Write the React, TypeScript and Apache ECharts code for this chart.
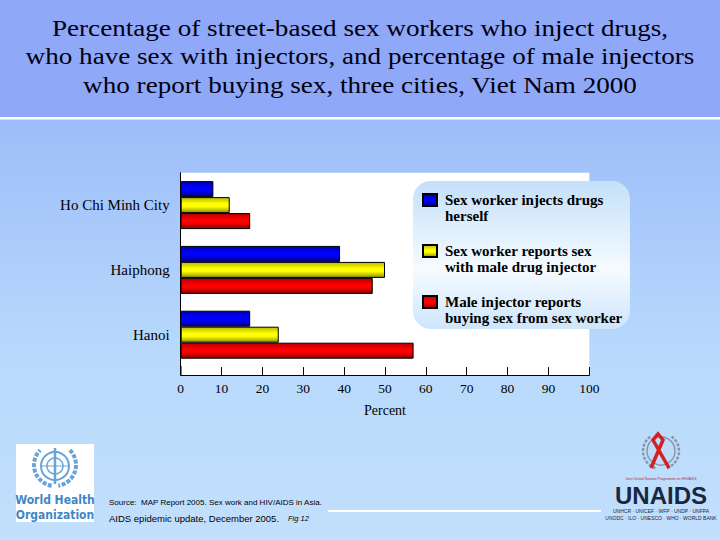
import React, { useEffect, useRef } from "react";
import * as echarts from "echarts";

// ---- data ----
const titleLines = [
  "Percentage of street-based sex workers who inject drugs,",
  "who have sex with injectors, and percentage of male injectors",
  "who report buying sex, three cities, Viet Nam 2000",
];
const cities = ["Ho Chi Minh City", "Haiphong", "Hanoi"];
const seriesNames = [
  "Sex worker injects drugs herself",
  "Sex worker reports sex with male drug injector",
  "Male injector reports buying sex from sex worker",
];
const legendLines: Record<string, string[]> = {
  "Sex worker injects drugs herself": ["Sex worker injects drugs", "herself"],
  "Sex worker reports sex with male drug injector": ["Sex worker reports sex", "with male drug injector"],
  "Male injector reports buying sex from sex worker": ["Male injector reports", "buying sex from sex worker"],
};
const injectsDrugs = [8, 39, 17];
const sexWithInjector = [12, 50, 24];
const buyingSex = [17, 47, 57];
const xMin = 0;
const xMax = 100;
const xInterval = 10;
const axisName = "Percent";
const sourceLine1 = "Source:  MAP Report 2005. Sex work and HIV/AIDS in Asia.";
const sourceLine2 = "AIDS epidemic update, December 2005.";
const figLabel = "Fig 12";

const SERIF = "'Liberation Serif', 'DejaVu Serif', serif";
const SANS = "'Liberation Sans', Arial, sans-serif";
const COND = "'DejaVu Sans Condensed', 'DejaVu Sans', sans-serif";

function grad(top: string, mid: string, bottom: string) {
  return new echarts.graphic.LinearGradient(0, 0, 0, 1, [
    { offset: 0, color: top },
    { offset: 0.4, color: mid },
    { offset: 0.6, color: mid },
    { offset: 1, color: bottom },
  ]);
}

export default function App() {
  const ref = useRef<HTMLDivElement>(null);
  useEffect(() => {
    document.body.style.margin = "0";
    if (!ref.current) return;
    const chart = echarts.init(ref.current, null, { renderer: "svg" });
    const values = [injectsDrugs, sexWithInjector, buyingSex];
    const fills = [
      grad("#0000a8", "#0000ff", "#000080"),
      grad("#b8b800", "#ffff00", "#909000"),
      grad("#b80000", "#ff0000", "#8a0000"),
    ];
    const whoBlue = "#6aa3d8";
    const option: any = {
      animation: false,
      grid: {
        left: 180.7,
        top: 172.7,
        width: 408.6,
        height: 194.4,
        outerBoundsMode: "none",
      },
      xAxis: {
        type: "value",
        min: xMin,
        max: xMax,
        interval: xInterval,
        offset: 8,
        axisLine: { show: true, lineStyle: { color: "#000", width: 1 } },
        axisTick: { show: true, inside: true, length: 8, lineStyle: { color: "#000" } },
        splitLine: { show: false },
        axisLabel: { fontFamily: SERIF, fontSize: 13.5, color: "#000", margin: 6 },
        name: axisName,
        nameLocation: "middle",
        nameGap: 28,
        nameTextStyle: { fontFamily: SERIF, fontSize: 14, color: "#000" },
      },
      yAxis: {
        type: "category",
        data: cities,
        inverse: true,
        axisLine: { show: true, lineStyle: { color: "#000", width: 1 } },
        axisTick: { show: false },
        axisLabel: { fontFamily: SERIF, fontSize: 15, color: "#000", margin: 11 },
      },
      legend: {
        orient: "vertical",
        left: 422,
        top: 176,
        padding: 0,
        itemWidth: 14,
        itemHeight: 12,
        itemGap: 3,
        icon: "rect",
        data: seriesNames,
        formatter: (name: string) => "\n" + legendLines[name].join("\n"),
        textStyle: {
          fontFamily: SERIF,
          fontSize: 15,
          fontWeight: "bold",
          lineHeight: 16,
          color: "#000",
          padding: [0, 0, 0, 3],
        },
      },
      series: seriesNames.map((n, i) => ({
        type: "bar",
        name: n,
        data: values[i],
        barWidth: 16,
        barGap: "0%",
        itemStyle: { color: fills[i], borderColor: "#000", borderWidth: 1 },
      })),
      graphic: [
        // backgrounds
        {
          type: "rect",
          z: -20,
          shape: { x: 0, y: 0, width: 720, height: 540 },
          style: {
            fill: new echarts.graphic.LinearGradient(0, 0, 0, 1, [
              { offset: 0, color: "#8eaef8" },
              { offset: 0.65, color: "#b8d9fc" },
              { offset: 1, color: "#c2e0fc" },
            ]),
          },
          silent: true,
        },
        {
          type: "rect",
          z: -19,
          shape: { x: 0, y: 0, width: 720, height: 117 },
          style: { fill: "#8fa8f8" },
          silent: true,
        },
        {
          type: "rect",
          z: -19,
          shape: { x: 0, y: 117, width: 720, height: 2.5 },
          style: { fill: "#ffffff" },
          silent: true,
        },
        // title
        {
          type: "text",
          z: 5,
          x: 360,
          y: 13.5,
          scaleX: 1.18,
          style: {
            text: titleLines.join("\n"),
            fontFamily: SERIF,
            fontSize: 23,
            lineHeight: 28.5,
            fill: "#000010",
            align: "center",
            verticalAlign: "top",
          },
        },
        // plot area
        {
          type: "rect",
          z: -18,
          shape: { x: 180.7, y: 172.7, width: 408.6, height: 202.3 },
          style: { fill: "#ffffff" },
          silent: true,
        },
        {
          type: "line",
          z: 1,
          shape: { x1: 181, y1: 366, x2: 181, y2: 375.5 },
          style: { stroke: "#000", lineWidth: 1 },
          silent: true,
        },
        // legend box
        {
          type: "rect",
          z: -17,
          shape: { x: 413, y: 181, width: 217, height: 148, r: 18 },
          style: {
            fill: new echarts.graphic.LinearGradient(0, 0, 0, 1, [
              { offset: 0, color: "#c4e0fa" },
              { offset: 0.6, color: "#f6fbff" },
              { offset: 1, color: "#cde5fb" },
            ]),
          },
          silent: true,
        },
        // source line
        {
          type: "rect",
          z: -16,
          shape: { x: 328, y: 510, width: 273, height: 2 },
          style: { fill: "#ffffff" },
          silent: true,
        },
        {
          type: "text",
          z: 5,
          x: 109,
          y: 502,
          style: { text: sourceLine1, fontFamily: SANS, fontSize: 8, fill: "#000", verticalAlign: "middle" },
        },
        {
          type: "text",
          z: 5,
          x: 109,
          y: 518,
          style: { text: sourceLine2, fontFamily: SANS, fontSize: 9.5, fill: "#000", verticalAlign: "middle" },
        },
        {
          type: "text",
          z: 5,
          x: 288,
          y: 518,
          style: { text: figLabel, fontFamily: SANS, fontSize: 7.5, fontStyle: "italic", fill: "#000", verticalAlign: "middle" },
        },
        // WHO logo
        {
          type: "rect",
          z: 2,
          shape: { x: 16, y: 444, width: 78, height: 78 },
          style: { fill: "#ffffff" },
          silent: true,
        },
        {
          type: "circle",
          z: 3,
          shape: { cx: 55, cy: 466, r: 14 },
          style: { fill: "none", stroke: whoBlue, lineWidth: 2 },
        },
        {
          type: "circle",
          z: 3,
          shape: { cx: 55, cy: 466, r: 8 },
          style: { fill: "none", stroke: whoBlue, lineWidth: 1.5 },
        },
        {
          type: "line",
          z: 3,
          shape: { x1: 41, y1: 466, x2: 69, y2: 466 },
          style: { stroke: whoBlue, lineWidth: 1 },
        },
        {
          type: "line",
          z: 3,
          shape: { x1: 55, y1: 448, x2: 55, y2: 484 },
          style: { stroke: whoBlue, lineWidth: 2.5 },
        },
        {
          type: "arc",
          z: 3,
          shape: { cx: 55, cy: 465, r: 21, startAngle: Math.PI * 0.55, endAngle: Math.PI * 1.25 },
          style: { stroke: whoBlue, lineWidth: 4, fill: "none", lineDash: [4, 1.5] },
        },
        {
          type: "arc",
          z: 3,
          shape: { cx: 55, cy: 465, r: 21, startAngle: Math.PI * 1.75, endAngle: Math.PI * 0.45 },
          style: { stroke: whoBlue, lineWidth: 4, fill: "none", lineDash: [4, 1.5] },
        },
        {
          type: "text",
          z: 3,
          x: 55,
          y: 500,
          style: { text: "World Health", fontFamily: COND, fontSize: 12, fontWeight: "bold", fill: "#3f86c6", align: "center", verticalAlign: "middle" },
        },
        {
          type: "text",
          z: 3,
          x: 55,
          y: 515,
          style: { text: "Organization", fontFamily: COND, fontSize: 12, fontWeight: "bold", fill: "#3f86c6", align: "center", verticalAlign: "middle" },
        },
        // UNAIDS logo
        {
          type: "circle",
          z: 3,
          shape: { cx: 661, cy: 451, r: 14 },
          style: { fill: "none", stroke: "#8a96a8", lineWidth: 1.5 },
        },
        {
          type: "arc",
          z: 3,
          shape: { cx: 661, cy: 451, r: 18, startAngle: Math.PI * 0.6, endAngle: Math.PI * 1.3 },
          style: { stroke: "#8a96a8", lineWidth: 2.5, fill: "none", lineDash: [3, 1.5] },
        },
        {
          type: "arc",
          z: 3,
          shape: { cx: 661, cy: 451, r: 18, startAngle: Math.PI * 1.7, endAngle: Math.PI * 0.4 },
          style: { stroke: "#8a96a8", lineWidth: 2.5, fill: "none", lineDash: [3, 1.5] },
        },
        {
          type: "polyline",
          z: 4,
          shape: { points: [[651, 468], [663, 440], [658, 434], [653, 440], [669, 468]] },
          style: { stroke: "#d42020", lineWidth: 3.5, fill: "none" },
        },
        {
          type: "text",
          z: 3,
          x: 661,
          y: 479,
          style: { text: "Joint United Nations Programme on HIV/AIDS", fontFamily: SANS, fontSize: 3.5, fill: "#b03030", align: "center", verticalAlign: "middle" },
        },
        {
          type: "text",
          z: 3,
          x: 661,
          y: 495,
          style: { text: "UNAIDS", fontFamily: SANS, fontSize: 24, fontWeight: "bold", fill: "#1a2740", align: "center", verticalAlign: "middle" },
        },
        {
          type: "text",
          z: 3,
          x: 661,
          y: 511,
          style: { text: "UNHCR · UNICEF · WFP · UNDP · UNFPA", fontFamily: SANS, fontSize: 5, fill: "#1a2740", align: "center", verticalAlign: "middle" },
        },
        {
          type: "text",
          z: 3,
          x: 661,
          y: 518,
          style: { text: "UNODC · ILO · UNESCO · WHO · WORLD BANK", fontFamily: SANS, fontSize: 5, fill: "#1a2740", align: "center", verticalAlign: "middle" },
        },
      ],
    };
    chart.setOption(option);
    return () => chart.dispose();
  }, []);
  return <div ref={ref} style={{ width: 720, height: 540 }} />;
}
